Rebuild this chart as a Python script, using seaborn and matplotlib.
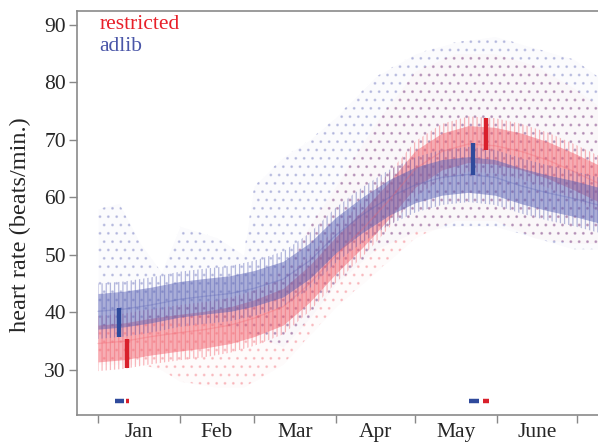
import numpy as np
import pandas as pd
import matplotlib
matplotlib.use("Agg")
import matplotlib.pyplot as plt
import seaborn as sns

# ---- data (day 0 = 1 Jan) ----
days = [0, 10, 20, 31, 40, 50, 59, 70, 80, 90, 100, 110, 120, 130, 140, 150, 160, 170, 180, 189]
adlib_center = [40.2, 40.6, 41.3, 42.3, 42.8, 43.3, 44.2, 45.8, 49.0, 53.5, 57.0, 60.0, 62.2, 63.5, 64.0, 63.5, 62.0, 60.8, 59.8, 58.7]
restricted_center = [34.6, 35.0, 35.8, 36.5, 37.0, 37.8, 39.0, 41.0, 45.0, 50.0, 54.5, 59.5, 65.0, 68.0, 69.3, 69.0, 68.0, 66.5, 64.5, 62.5]

cloud_days = [0, 8, 16, 24, 31, 45, 55, 59, 70, 80, 90, 105, 120, 135, 150, 165, 180, 189]
adlib_cloud_hi = [58, 59, 52, 47, 55, 53, 50, 62, 67, 70, 74, 81, 85, 87, 88, 86, 84, 81]
adlib_cloud_lo = [37, 37, 38, 38, 38, 38, 37, 36, 34, 39, 45, 51, 54, 55, 55, 53, 51, 51]
restricted_cloud_hi = [38, 38, 39, 40, 41, 42, 43, 44, 48, 55, 62, 73, 82, 85, 85, 83, 79, 76]
restricted_cloud_lo = [31, 31, 31, 30, 28, 27, 27, 28, 31, 36, 41, 47, 53, 56, 56, 53, 52, 52]

# error bars at two sampling times and their windows
bar_days_adlib = [8.0, 141.8]
bar_lo_adlib = [35.7, 63.9]
bar_hi_adlib = [40.8, 69.5]
bar_days_restricted = [11.0, 146.7]
bar_lo_restricted = [30.3, 68.3]
bar_hi_restricted = [35.4, 73.8]
window_adlib = [(6.4, 9.8), (140.3, 144.0)]
window_restricted = [(10.6, 11.7), (145.6, 147.8)]
window_level = 24.6

month_edges = [0, 31, 59, 90, 120, 151, 181]
month_labels = ["Jan", "Feb", "Mar", "Apr", "May", "June"]

# ---- style ----
sns.set_style("ticks")
plt.rcParams["font.family"] = ["Liberation Serif", "DejaVu Serif"]
plt.rcParams["hatch.linewidth"] = 0.9

BLUE = "#5b63b5"
RED = "#f2636f"
BLUE_DARK = "#2f4a9c"
RED_DARK = "#d9202b"

fig = plt.figure(figsize=(5.98, 4.43), dpi=100)
ax = fig.add_axes([77 / 598, 1 - 415 / 443, 1 - 77 / 598, (415 - 11) / 443])

d = np.array(days, dtype=float)
cd = np.array(cloud_days, dtype=float)

# sparse scattered clouds (dot hatch)
for lo, hi, col in [(restricted_cloud_lo, restricted_cloud_hi, RED),
                    (adlib_cloud_lo, adlib_cloud_hi, BLUE)]:
    ax.fill_between(cd, lo, hi, facecolor=col, alpha=0.025, lw=0)
    ax.fill_between(cd, lo, hi, facecolor="none", edgecolor=col, hatch="..",
                    alpha=0.28, lw=0)

# dense daily bands
bands = [(restricted_center, RED, 3.2, 4.8), (adlib_center, BLUE, 3.1, 4.8)]
for cen, col, hw, hw2 in bands:
    c = np.array(cen)
    ax.fill_between(d, c - hw2, c + hw2, facecolor="none", edgecolor=col,
                    hatch="||||", alpha=0.45, lw=0)
    ax.fill_between(d, c - hw, c + hw, facecolor=col, alpha=0.5, lw=0)

df = pd.DataFrame({"day": days * 2,
                   "hr": adlib_center + restricted_center,
                   "group": ["adlib"] * len(days) + ["restricted"] * len(days)})
sns.lineplot(data=df, x="day", y="hr", hue="group",
             palette={"adlib": BLUE, "restricted": RED}, lw=1.0, alpha=0.3,
             legend=False, ax=ax)

# error bars
ax.vlines(bar_days_adlib, bar_lo_adlib, bar_hi_adlib, color=BLUE_DARK, lw=3.2)
ax.vlines(bar_days_restricted, bar_lo_restricted, bar_hi_restricted, color=RED_DARK, lw=3.2)
for a, b in window_adlib:
    ax.hlines(window_level, a, b, color=BLUE_DARK, lw=3.2)
for a, b in window_restricted:
    ax.hlines(window_level, a, b, color=RED_DARK, lw=3.2)

# axes
ax.set_xlim(-7.94, 189.0)
ax.set_ylim(22.17, 92.43)
ax.set_yticks([30, 40, 50, 60, 70, 80, 90])
ax.set_xticks(month_edges)
ax.set_xticklabels([])
mids = [(month_edges[i] + month_edges[i + 1]) / 2 for i in range(len(month_labels))]
ax.set_xticks(mids, minor=True)
ax.set_xticklabels(month_labels, minor=True)
ax.tick_params(axis="x", which="minor", length=0, pad=6, labelsize=15.5)
ax.tick_params(axis="x", which="major", length=6, width=1.0, color="#888888")
ax.tick_params(axis="y", length=6, width=1.0, color="#888888", labelsize=15.5, pad=2)
for s in ["left", "bottom", "top"]:
    ax.spines[s].set_visible(True)
    ax.spines[s].set_color("#8a8a8a")
    ax.spines[s].set_linewidth(1.2)
ax.spines["right"].set_visible(False)
ax.set_xlabel("")
ax.set_ylabel("heart rate (beats/min.)", fontsize=17.5)
ax.yaxis.set_label_coords(-0.088, 0.47)

ax.text(0.043, 0.99, "restricted", transform=ax.transAxes, color="#e8202a",
        fontsize=15.5, va="top", ha="left")
ax.text(0.043, 0.935, "adlib", transform=ax.transAxes, color="#4a56a8",
        fontsize=15.5, va="top", ha="left")

fig.savefig("out.png", dpi=100)
